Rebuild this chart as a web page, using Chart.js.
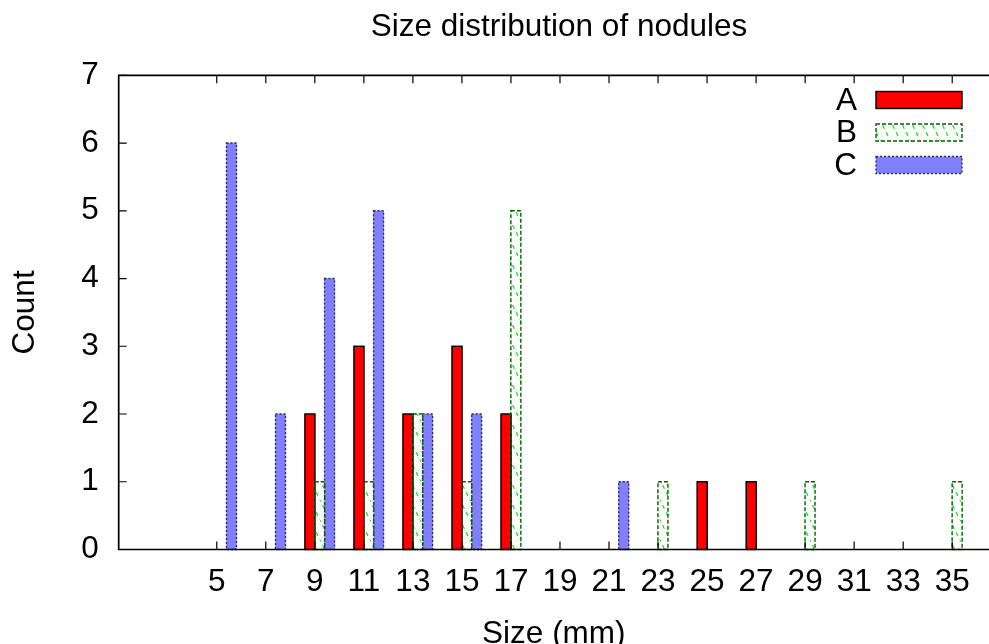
<!DOCTYPE html>
<html>
<head>
<meta charset="utf-8">
<script src="https://cdn.jsdelivr.net/npm/chart.js@4/dist/chart.umd.min.js"></script>
<style>
  html, body { margin: 0; padding: 0; background: #fff; }
  #wrap { width: 989px; height: 644px; }
</style>
</head>
<body>
<div id="wrap"><canvas id="myChart"></canvas></div>
<script>
// bins (mm) and counts
const sizeBins = [5, 7, 9, 11, 13, 15, 17, 19, 21, 23, 25, 27, 29, 31, 33, 35];
const countA = [0, 0, 2, 3, 2, 3, 2, 0, 0, 0, 1, 1, 0, 0, 0, 0];
const countB = [0, 0, 1, 1, 2, 1, 5, 0, 0, 1, 0, 0, 1, 0, 0, 1];
const countC = [6, 2, 4, 5, 2, 2, 0, 0, 1, 0, 0, 0, 0, 0, 0, 0];
const seriesNames = ['A', 'B', 'C'];
const countTicks = [0, 1, 2, 3, 4, 5, 6, 7];

const FONT = "'Liberation Sans', Arial, Helvetica, sans-serif";
const FSIZE = 31.5;

function hatchPattern() {
  const c = document.createElement('canvas');
  c.width = 10; c.height = 20;
  const g = c.getContext('2d');
  g.fillStyle = '#fff';
  g.fillRect(0, 0, 10, 20);
  g.strokeStyle = '#19e619';
  g.lineWidth = 1.3;
  g.setLineDash([4, 4]);
  g.beginPath();
  g.moveTo(-1, -2); g.lineTo(11, 22);
  g.stroke();
  return g.createPattern(c, 'repeat');
}

// how each box set looks (gnuplot-like)
const looks = [
  { fill: '#ff0000', edge: '#000000', dash: [], shift: -0.2 },
  { fill: hatchPattern(), edge: '#006000', dash: [4, 2], shift: 0.2 },
  { fill: '#8080ff', edge: '#303050', dash: [2, 2], shift: 0.6 },
];

function points(counts, shift) {
  return sizeBins.map((b, i) => ({ x: b + shift, y: counts[i] }));
}

const allCounts = [countA, countB, countC];

function edgeRect(ctx, x0, y0, x1, y1, look) {
  ctx.save();
  ctx.strokeStyle = look.edge;
  ctx.lineWidth = 1.4;
  ctx.setLineDash(look.dash);
  ctx.strokeRect(x0, y0, x1 - x0, y1 - y0);
  ctx.restore();
}

const gnuStyle = {
  id: 'gnuStyle',
  afterDatasetsDraw(chart) {
    const ctx = chart.ctx;
    // box edges (dashed ones are not supported by BarElement)
    chart.data.datasets.forEach((ds, di) => {
      const meta = chart.getDatasetMeta(di);
      meta.data.forEach(el => {
        const p = el.getProps(['x', 'y', 'base', 'width'], true);
        if (Math.abs(p.base - p.y) < 0.5) return;
        edgeRect(ctx, p.x - p.width / 2, p.y, p.x + p.width / 2, p.base, looks[di]);
      });
    });

    // frame + inward ticks
    const { left, right, top, bottom } = chart.chartArea;
    const xs = chart.scales.x, ys = chart.scales.y;
    ctx.save();
    ctx.strokeStyle = '#000';
    ctx.lineWidth = 1.7;
    ctx.beginPath();
    ctx.moveTo(right, top); ctx.lineTo(left, top);
    ctx.lineTo(left, bottom); ctx.lineTo(right, bottom);
    ctx.stroke();
    ctx.lineWidth = 1.2;
    ctx.beginPath();
    sizeBins.forEach(v => {
      const px = xs.getPixelForValue(v);
      ctx.moveTo(px, bottom); ctx.lineTo(px, bottom - 8);
      ctx.moveTo(px, top); ctx.lineTo(px, top + 8);
    });
    countTicks.forEach(v => {
      const py = ys.getPixelForValue(v);
      ctx.moveTo(left, py); ctx.lineTo(left + 8, py);
    });
    ctx.stroke();
    ctx.restore();
  },
  afterDraw(chart) {
    const ctx = chart.ctx;
    ctx.save();
    ctx.fillStyle = '#000';
    ctx.font = FSIZE + 'px ' + FONT;
    ctx.textBaseline = 'middle';
    // title
    ctx.textAlign = 'center';
    ctx.fillText('Size distribution of nodules', 559, 27);
    // key, top right
    ctx.textAlign = 'right';
    chart.data.datasets.forEach((ds, i) => {
      const cy = 100 + i * 32.5;
      ctx.fillText(ds.label, 857, cy + 1);
      ctx.fillStyle = looks[i].fill;
      ctx.fillRect(876, cy - 8.5, 86, 17);
      edgeRect(ctx, 876, cy - 8.5, 962, cy + 8.5, looks[i]);
      ctx.fillStyle = '#000';
    });
    ctx.restore();
  }
};

const chart = new Chart('myChart', {
  type: 'bar',
  data: {
    datasets: seriesNames.map((name, i) => ({
      label: name,
      data: points(allCounts[i], looks[i].shift),
      backgroundColor: looks[i].fill,
      borderWidth: 0,
      barThickness: 10,
      grouped: false,
    })),
  },
  options: {
    responsive: true,
    maintainAspectRatio: false,
    animation: false,
    layout: { padding: { top: 75.3, left: 0, right: 0, bottom: 0 } },
    plugins: {
      legend: { display: false },
      title: { display: false },
      tooltip: { enabled: false },
    },
    scales: {
      x: {
        type: 'linear',
        min: 1,
        max: 36.5,
        offset: false,
        grid: { display: false, drawTicks: false },
        border: { display: false },
        afterBuildTicks: s => { s.ticks = sizeBins.map(v => ({ value: v })); },
        ticks: { font: { family: FONT, size: FSIZE }, color: '#000', padding: 14, maxRotation: 0, autoSkip: false },
        title: { display: true, text: 'Size (mm)', color: '#000', font: { family: FONT, size: FSIZE, lineHeight: 0.6 }, padding: 0 },
        afterFit: s => { s.height = 94.5; },
      },
      y: {
        min: 0,
        max: 7,
        grid: { display: false, drawTicks: false },
        border: { display: false },
        afterBuildTicks: s => { s.ticks = countTicks.map(v => ({ value: v })); },
        ticks: { font: { family: FONT, size: FSIZE }, color: '#000', padding: 20 },
        title: { display: true, text: 'Count', color: '#000', font: { family: FONT, size: FSIZE }, padding: { top: 6, bottom: 0 } },
        afterFit: s => { s.width = 118.7; },
      },
    },
  },
  plugins: [gnuStyle],
});
</script>
</body>
</html>
